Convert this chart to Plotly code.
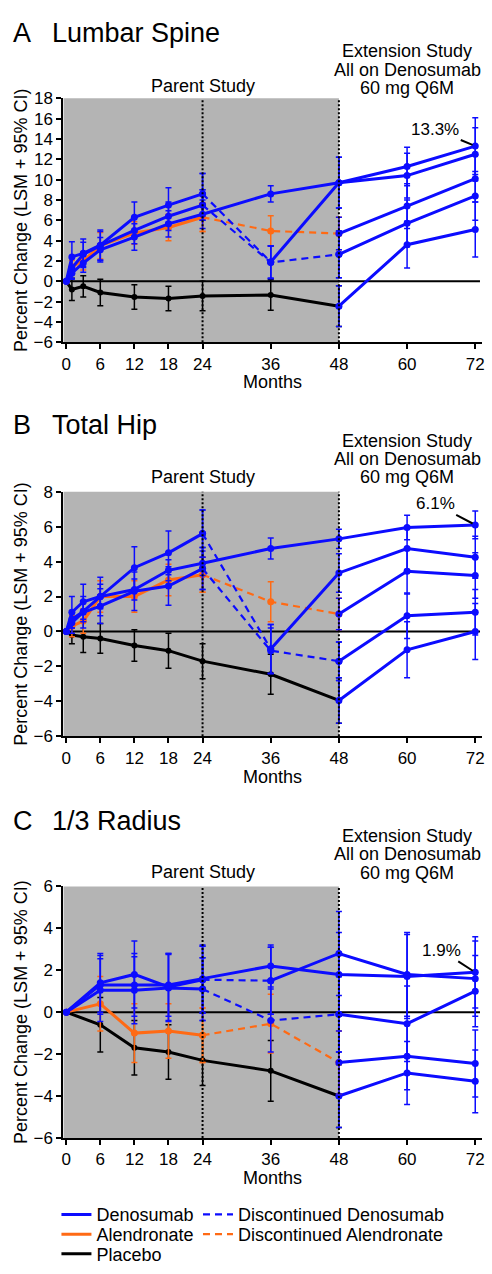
import plotly.graph_objects as go

# ---------------- data ----------------
MONTHS_AB = [0, 1, 3, 6, 12, 18, 24, 36, 48, 60, 72]
MONTHS_C = [0, 6, 12, 18, 24, 36, 48, 60, 72]
X_TICKS = [0, 6, 12, 18, 24, 36, 48, 60, 72]

# A  Lumbar Spine
A_CONT = [0, 0.8, 1.8, 3.1, 4.35, 5.65, 6.6, 8.6, 9.7, 11.3, 13.3]
A_CONT_CI = [0, 0.6, 0.9, 1.2, 1.3, 1.3, 1.4, 0.8, 2.5, 1.9, 2.8]
A_RETR = [0, 2.4, 2.75, 3.55, 6.3, 7.5, 8.6, 1.9, 9.7, 10.4, 12.5]
A_RETR_CI = [0, 1.5, 1.4, 1.5, 1.5, 1.7, 2.0, 1.6, 2.5, 2.2, 2.6]
A_DISC = [0, 1.3, 2.65, 3.5, 5.0, 6.4, 7.5, 1.85, 2.65, 5.7, 8.4]
A_DISC_CI = [0, 1.0, 1.2, 1.4, 1.3, 1.4, 1.5, 1.6, 2.3, 2.3, 2.4]
A_ALN = [0, 1.45, 2.0, 3.5, 4.75, 5.3, 6.3, 4.95, 4.7, 7.4, 10.1]
A_ALN_CI = [0, 0.6, 0.9, 1.3, 1.1, 1.3, 1.4, 1.5, 1.6, 2.2, 2.3]
A_PBO = [0, -0.8, -0.5, -1.1, -1.55, -1.7, -1.45, -1.35, -2.45, 3.6, 5.1]
A_PBO_CI = [0, 1.1, 1.05, 1.3, 1.2, 1.2, 1.45, 1.5, 2.0, 2.3, 2.7]

# B  Total Hip
B_CONT = [0, 0.7, 1.15, 2.0, 2.4, 3.5, 3.9, 4.75, 5.3, 5.95, 6.1]
B_CONT_CI = [0, 0.5, 0.6, 0.7, 0.6, 0.6, 0.7, 0.6, 0.55, 0.7, 0.8]
B_RETR = [0, 1.1, 1.7, 2.0, 3.65, 4.5, 5.6, -1.0, 3.35, 4.75, 4.25]
B_RETR_CI = [0, 0.9, 1.0, 1.1, 1.2, 1.25, 1.35, 1.4, 1.1, 1.2, 1.2]
B_DISC = [0, 0.5, 1.1, 1.45, 2.3, 2.6, 3.6, -1.1, -1.7, 0.9, 1.1]
B_DISC_CI = [0, 0.6, 0.9, 1.0, 1.1, 1.1, 1.2, 1.3, 1.1, 1.3, 1.3]
B_ALN = [0, 0.3, 0.6, 2.0, 2.0, 2.95, 3.25, 1.7, 1.0, 3.45, 3.2]
B_ALN_CI = [0, 0.6, 0.7, 0.9, 0.9, 0.9, 1.0, 1.15, 0.9, 1.3, 1.3]
B_PBO = [0, -0.2, -0.3, -0.4, -0.8, -1.1, -1.7, -2.45, -3.95, -1.05, 0.0]
B_PBO_CI = [0, 0.5, 0.9, 0.85, 0.9, 1.0, 1.0, 1.15, 1.3, 1.6, 1.6]

# C  1/3 Radius
C_CONT = [0, 1.3, 1.3, 1.3, 1.6, 2.2, 1.8, 1.7, 1.9]
C_CONT_CI = [0, 1.4, 1.5, 1.5, 1.6, 1.0, 2.0, 2.0, 1.7]
C_RETR = [0, 1.4, 1.8, 1.2, 1.55, 1.5, 2.8, 1.8, 1.6]
C_RETR_CI = [0, 1.4, 1.6, 1.6, 1.6, 1.6, 2.0, 2.0, 1.8]
C_DISC = [0, 1.05, 1.05, 1.15, 1.1, -0.4, -0.1, -0.55, 1.0]
C_DISC_CI = [0, 1.5, 1.6, 1.6, 1.5, 1.5, 1.8, 1.8, 1.7]
C_ALN = [0, 0.4, -1.0, -0.9, -1.1, -0.55, -2.4, -2.1, -2.45]
C_ALN_CI = [0, 1.3, 1.4, 1.3, 1.3, 1.4, 1.5, 1.6, 1.6]
C_PBO = [0, -0.6, -1.7, -1.9, -2.3, -2.8, -4.0, -2.9, -3.3]
C_PBO_CI = [0, 1.3, 1.3, 1.3, 1.2, 1.45, 1.5, 1.5, 1.5]

PANEL_LETTERS = ["A", "B", "C"]
PANEL_NAMES = ["Lumbar Spine", "Total Hip", "1/3 Radius"]
FINAL_LABELS = ["13.3%", "6.1%", "1.9%"]
EXT_LINES = ["Extension Study", "All on Denosumab", "60 mg Q6M"]
Y_TICKS_A = list(range(-6, 19, 2))
Y_TICKS_B = list(range(-6, 9, 2))
Y_TICKS_C = list(range(-6, 7, 2))
LEGEND_NAMES = ["Denosumab", "Alendronate", "Placebo",
                "Discontinued Denosumab", "Discontinued Alendronate"]

# ---------------- styling ----------------
W, H = 492, 1274
FONT = "Arial, Liberation Sans, sans-serif"
BLUE = "#0c0cff"
ORANGE = "#ff6a14"
BLACK = "#000000"
GRAY = "#b4b4b4"
COLORS = {"blue": BLUE, "orange": ORANGE, "black": BLACK}

# phases per group: (start month, end month, colour, dash)
PHASES = {
    "cont": [(0, 72, "blue", "solid")],
    "retr": [(0, 24, "blue", "solid"), (24, 36, "blue", "dash"), (36, 72, "blue", "solid")],
    "disc": [(0, 24, "blue", "solid"), (24, 48, "blue", "dash"), (48, 72, "blue", "solid")],
    "aln": [(0, 24, "orange", "solid"), (24, 48, "orange", "dash"), (48, 72, "blue", "solid")],
    "pbo": [(0, 48, "black", "solid"), (48, 72, "blue", "solid")],
}
# legend entries from panel A segments: (group, phase) -> (name index, legend id, text x px, row y px)
LEGEND_MAP = {
    ("cont", 0): (0, "legend", 97, 1224),
    ("aln", 0): (1, "legend2", 97, 1244),
    ("pbo", 0): (2, "legend3", 97, 1264),
    ("disc", 1): (3, "legend4", 240, 1224),
    ("aln", 1): (4, "legend5", 240, 1244),
}

panels = [
    dict(months=MONTHS_AB, ticks=Y_TICKS_A, rng=[-6, 18], top=90.7, bot=338.3,
         series={"cont": (A_CONT, A_CONT_CI), "retr": (A_RETR, A_RETR_CI),
                 "disc": (A_DISC, A_DISC_CI), "aln": (A_ALN, A_ALN_CI),
                 "pbo": (A_PBO, A_PBO_CI)},
         title_y=24, months_y=379, arrow=(-40, -17),
         ext_off=[48, 29, 10.5], parent_off=12.5),
    dict(months=MONTHS_AB, ticks=Y_TICKS_B, rng=[-6, 8], top=490, bot=738.3,
         series={"cont": (B_CONT, B_CONT_CI), "retr": (B_RETR, B_RETR_CI),
                 "disc": (B_DISC, B_DISC_CI), "aln": (B_ALN, B_ALN_CI),
                 "pbo": (B_PBO, B_PBO_CI)},
         title_y=422, months_y=780, arrow=(-40, -21),
         ext_off=[51.5, 33.3, 15], parent_off=15),
    dict(months=MONTHS_C, ticks=Y_TICKS_C, rng=[-6, 6], top=890.7, bot=1146,
         series={"cont": (C_CONT, C_CONT_CI), "retr": (C_RETR, C_RETR_CI),
                 "disc": (C_DISC, C_DISC_CI), "aln": (C_ALN, C_ALN_CI),
                 "pbo": (C_PBO, C_PBO_CI)},
         title_y=824, months_y=1187, arrow=(-34, -22),
         ext_off=[50.7, 32.4, 14], parent_off=14.7),
]

X_LEFT, X_RIGHT = 62, 485
X_RANGE = [-0.5, 73.2]

fig = go.Figure()
annotations = []
shapes = []
layout_extra = {}

for pi, p in enumerate(panels):
    sfx = "" if pi == 0 else str(pi + 1)
    xref, yref = "x" + sfx, "y" + sfx
    months = p["months"]
    for g in ["pbo", "aln", "disc", "retr", "cont"]:
        vals, ci = p["series"][g]
        for ph_i, (m0, m1, col, dash) in enumerate(PHASES[g]):
            idx = [i for i, m in enumerate(months) if m0 <= m <= m1]
            xs = [months[i] for i in idx]
            ys = [vals[i] for i in idx]
            es = [ci[i] for i in idx]
            c = COLORS[col]
            leg = LEGEND_MAP.get((g, ph_i)) if pi == 0 else None
            fig.add_trace(go.Scatter(
                x=xs, y=ys, mode="lines", xaxis=xref, yaxis=yref,
                line=dict(color=c, width=3 if dash == "solid" else 2.2,
                          dash="solid" if dash == "solid" else "7px,5px"),
                name=LEGEND_NAMES[leg[0]] if leg else "", showlegend=bool(leg),
                legend=leg[1] if leg else "legend",
                hoverinfo="skip"))
            fig.add_trace(go.Scatter(
                x=xs, y=ys, mode="markers", xaxis=xref, yaxis=yref,
                marker=dict(color=c, size=6 if col == "black" else 7),
                error_y=dict(type="data", array=es, color=c, thickness=1.5, width=3),
                showlegend=False, hoverinfo="skip"))

    y0p = 1 - p["bot"] / H
    y1p = 1 - p["top"] / H
    layout_extra["xaxis" + sfx] = dict(
        domain=[X_LEFT / W, X_RIGHT / W], range=X_RANGE, anchor=yref,
        tickvals=X_TICKS, ticks="outside", ticklen=5, tickwidth=2, tickcolor="black",
        showline=True, linecolor="black", linewidth=2, showgrid=False, zeroline=False,
        tickfont=dict(family=FONT, size=17, color="black"))
    layout_extra["yaxis" + sfx] = dict(
        domain=[y0p, y1p], range=p["rng"], anchor=xref,
        tickvals=p["ticks"], ticks="outside", ticklen=5, tickwidth=2, tickcolor="black",
        showline=True, linecolor="black", linewidth=2, showgrid=False, zeroline=False,
        tickfont=dict(family=FONT, size=17, color="black"))

    shapes.append(dict(type="rect", xref=xref, yref=yref + " domain", x0=X_RANGE[0], x1=48,
                       y0=0, y1=1, fillcolor=GRAY, line=dict(width=0), layer="below"))
    shapes.append(dict(type="line", xref=xref + " domain", yref=yref, x0=0, x1=0.995,
                       y0=0, y1=0, line=dict(color="black", width=2), layer="below"))
    for xm in (24, 48):
        shapes.append(dict(type="line", xref=xref, yref=yref + " domain", x0=xm, x1=xm,
                           y0=0, y1=1, line=dict(color="black", width=2, dash="2px,2px"),
                           layer="above"))

    annotations.append(dict(text=PANEL_LETTERS[pi], xref="paper", yref="paper",
                            x=9 / W, y=1 - p["title_y"] / H, xanchor="left", yanchor="middle",
                            showarrow=False, font=dict(family=FONT, size=27, color="black")))
    annotations.append(dict(text=PANEL_NAMES[pi], xref="paper", yref="paper",
                            x=48 / W, y=1 - p["title_y"] / H, xanchor="left", yanchor="middle",
                            showarrow=False, font=dict(family=FONT, size=27, color="black")))
    annotations.append(dict(text="Parent Study", xref=xref, yref="paper", x=24,
                            y=1 - (p["top"] - p["parent_off"]) / H, xanchor="center",
                            yanchor="middle", showarrow=False,
                            font=dict(family=FONT, size=18, color="black")))
    for li, line_txt in enumerate(EXT_LINES):
        annotations.append(dict(text=line_txt, xref=xref, yref="paper", x=60,
                                y=1 - (p["top"] - p["ext_off"][li]) / H, xanchor="center",
                                yanchor="middle", showarrow=False,
                                font=dict(family=FONT, size=18, color="black")))
    annotations.append(dict(text="Percent Change (LSM + 95% CI)", xref="paper", yref="paper",
                            x=19 / W, y=(y0p + y1p) / 2, textangle=-90,
                            xanchor="center", yanchor="middle", showarrow=False,
                            font=dict(family=FONT, size=18, color="black")))
    annotations.append(dict(text="Months", xref="paper", yref="paper",
                            x=(X_LEFT + X_RIGHT) / 2 / W, y=1 - p["months_y"] / H,
                            xanchor="center", yanchor="middle", showarrow=False,
                            font=dict(family=FONT, size=18, color="black")))
    cont_vals = p["series"]["cont"][0]
    annotations.append(dict(text=FINAL_LABELS[pi], xref=xref, yref=yref,
                            x=months[-1], y=cont_vals[-1], ax=p["arrow"][0], ay=p["arrow"][1],
                            showarrow=True, arrowhead=0, arrowwidth=2, arrowcolor="black",
                            standoff=3, font=dict(family=FONT, size=17, color="black")))

for key, (ni, lid, tx, ty) in LEGEND_MAP.items():
    layout_extra[lid] = dict(x=(tx - 42) / W, y=1 - ty / H, xanchor="left", yanchor="middle",
                             font=dict(family=FONT, size=18, color="black"),
                             bgcolor="rgba(0,0,0,0)", borderwidth=0, itemwidth=30)

fig.update_layout(
    width=W, height=H, margin=dict(l=0, r=0, t=0, b=0),
    paper_bgcolor="white", plot_bgcolor="white",
    shapes=shapes, annotations=annotations,
    **layout_extra,
)

fig.write_html("out.html", config={"displayModeBar": False},
               post_script="document.body.style.margin='0px';")
